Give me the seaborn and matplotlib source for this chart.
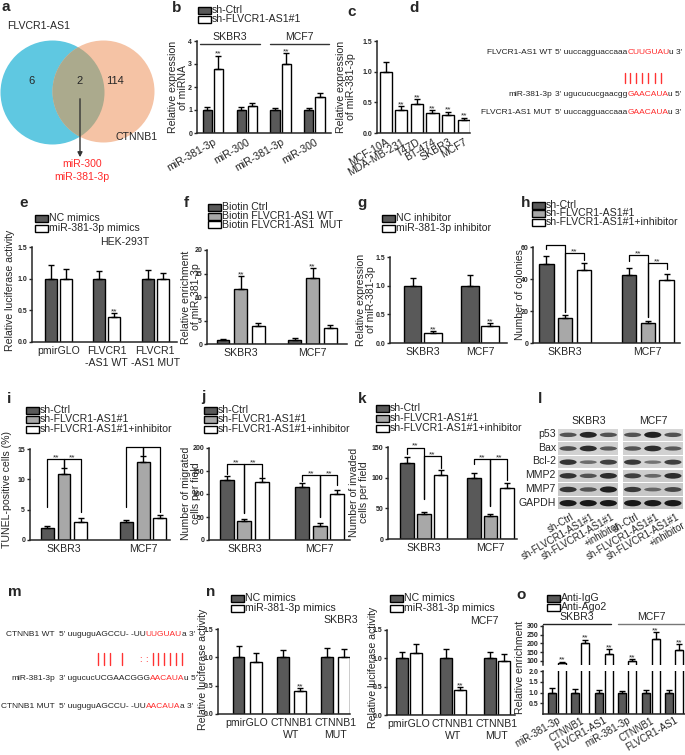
import numpy as np
import pandas as pd
import matplotlib
matplotlib.use("Agg")
import matplotlib.pyplot as plt
import seaborn as sns
from matplotlib.patches import Circle, Rectangle, Ellipse
from matplotlib.font_manager import FontProperties

# ---------------- data ----------------
venn_sets = ["FLVCR1-AS1", "CTNNB1"]
venn_counts = [6, 2, 114]
venn_shared = ["miR-300", "miR-381-3p"]

b_cells = ["SKBR3", "MCF7"]
b_mirs = ["miR-381-3p", "miR-300", "miR-381-3p", "miR-300"]
b_groups = ["sh-Ctrl", "sh-FLVCR1-AS1#1"]
b_ctrl = [1.0, 1.0, 1.0, 1.0]
b_ctrl_err = [0.12, 0.14, 0.10, 0.10]
b_sh = [2.78, 1.18, 2.98, 1.55]
b_sh_err = [0.58, 0.14, 0.50, 0.17]

c_lines = ["MCF-10A", "MDA-MB-231", "T47D", "BT-474", "SKBR3", "MCF7"]
c_vals = [1.0, 0.38, 0.48, 0.33, 0.29, 0.22]
c_err = [0.16, 0.06, 0.07, 0.04, 0.06, 0.03]

d_names = ["FLVCR1-AS1 WT", "miR-381-3p", "FLVCR1-AS1 MUT"]
d_seqs = [
    [("5' uuccagguaccaaa", "#222222"), ("CUUGUAU", "#ff2a2a"), ("u 3'", "#222222")],
    [("3' ugucucucgaacgg", "#222222"), ("GAACAUA", "#ff2a2a"), ("u 5'", "#222222")],
    [("5' uuccagguaccaaa", "#222222"), ("GAACAUA", "#ff2a2a"), ("u 3'", "#222222")],
]

e_constructs = ["pmirGLO", "FLVCR1\n-AS1 WT", "FLVCR1\n-AS1 MUT"]
e_groups = ["NC mimics", "miR-381-3p mimics"]
e_nc = [1.0, 1.0, 1.0]
e_nc_err = [0.21, 0.12, 0.13]
e_mim = [0.99, 0.40, 0.99]
e_mim_err = [0.17, 0.05, 0.10]

f_groups = ["Biotin Ctrl", "Biotin FLVCR1-AS1 WT", "Biotin FLVCR1-AS1  MUT"]
f_ctrl = [0.9, 0.9]
f_ctrl_err = [0.2, 0.3]
f_wt = [11.6, 14.1]
f_wt_err = [2.8, 2.0]
f_mut = [3.9, 3.3]
f_mut_err = [0.6, 0.7]

g_groups = ["NC inhibitor", "miR-381-3p inhibitor"]
g_nc = [1.0, 1.0]
g_nc_err = [0.13, 0.18]
g_inh = [0.18, 0.30]
g_inh_err = [0.03, 0.05]

rescue_groups = ["sh-Ctrl", "sh-FLVCR1-AS1#1", "sh-FLVCR1-AS1#1+inhibitor"]
h_ctrl, h_ctrl_err = [49.5, 42.8], [4.7, 4.0]
h_sh, h_sh_err = [15.8, 12.5], [1.5, 1.2]
h_inh, h_inh_err = [45.5, 39.3], [4.5, 3.8]

i_ctrl, i_ctrl_err = [2.0, 2.9], [0.35, 0.4]
i_sh, i_sh_err = [10.9, 12.9], [0.9, 1.0]
i_inh, i_inh_err = [3.0, 3.6], [0.6, 0.5]

j_ctrl, j_ctrl_err = [131, 115], [9, 9]
j_sh, j_sh_err = [41, 31], [5, 5]
j_inh, j_inh_err = [127, 100], [8, 9]

k_ctrl, k_ctrl_err = [124, 99], [9, 9]
k_sh, k_sh_err = [40, 37], [4, 4]
k_inh, k_inh_err = [104, 83], [8, 9]

l_rows = ["p53", "Bax", "Bcl-2", "MMP2", "MMP7", "GAPDH"]
l_lanes = ["sh-Ctrl", "sh-FLVCR1-AS1#1", "sh-FLVCR1-AS1#1\n+inhibitor"]
l_skbr3 = [[0.55, 0.9, 0.55], [0.6, 0.85, 0.5], [0.8, 0.35, 0.7],
           [0.8, 0.55, 0.85], [0.8, 0.55, 0.95], [1.0, 1.0, 1.0]]
l_mcf7 = [[0.55, 0.95, 0.55], [0.55, 0.85, 0.5], [0.75, 0.3, 0.7],
          [0.7, 0.4, 0.85], [0.75, 0.4, 0.65], [1.0, 1.0, 1.0]]

m_names = ["CTNNB1 WT", "miR-381-3p", "CTNNB1 MUT"]
m_seqs = [
    [("5' uuguguAGCCU- -UU", "#222222"), ("UUGUAU", "#ff2a2a"), ("a 3'", "#222222")],
    [("3' ugucucUCGAACGGG", "#222222"), ("AACAUA", "#ff2a2a"), ("u 5'", "#222222")],
    [("5' uuguguAGCCU- -UU", "#222222"), ("AACAUA", "#ff2a2a"), ("a 3'", "#222222")],
]
m_pairs = [9, 10, 11, 13, 18, 19, 20, 21, 22, 23]
m_wobble = [16, 17]

n_constructs = ["pmirGLO", "CTNNB1\nWT", "CTNNB1\nMUT"]
n1_nc, n1_nc_err = [1.0, 1.0, 1.0], [0.20, 0.13, 0.16]
n1_mim, n1_mim_err = [0.92, 0.41, 1.0], [0.16, 0.05, 0.15]
n2_nc, n2_nc_err = [1.0, 1.0, 1.0], [0.11, 0.16, 0.12]
n2_mim, n2_mim_err = [1.10, 0.44, 0.96], [0.16, 0.05, 0.11]

o_targets = ["miR-381-3p", "CTNNB1", "FLVCR1-AS1", "miR-381-3p", "CTNNB1", "FLVCR1-AS1"]
o_groups = ["Anti-IgG", "Anti-Ago2"]
o_igg = [1.0, 1.0, 1.0, 1.0, 1.0, 1.0]
o_igg_err = [0.2, 0.15, 0.12, 0.08, 0.12, 0.12]
o_ago = [86, 200, 140, 100, 226, 164]
o_ago_err = [10, 22, 28, 12, 40, 33]

# ---------------- setup ----------------
sns.set_style("ticks")
FONT = ["Liberation Sans", "DejaVu Sans"]
plt.rcParams["font.family"] = FONT

DARK, GRAY, WHITE = "#595959", "#a8a8a8", "#ffffff"
W, H = 685, 755
fig = plt.figure(figsize=(W / 100, H / 100), dpi=100)


def axpx(x0, y0, x1, y1):
    return fig.add_axes([x0 / W, 1 - y1 / H, (x1 - x0) / W, (y1 - y0) / H])


def bars(ax, cats, groups, means, errs, colors, width, gap):
    rows = []
    for g, vals in zip(groups, means):
        for c, v in zip(cats, vals):
            rows.append((c, g, v))
    df = pd.DataFrame(rows, columns=["cat", "grp", "val"])
    sns.barplot(data=df, x="cat", y="val", hue="grp", order=cats, hue_order=groups,
                palette=colors, width=width, gap=gap, edgecolor="black", linewidth=1,
                saturation=1, errorbar=None, legend=False, ax=ax)
    tops = []
    for cont, es in zip(ax.containers, errs):
        row = []
        for bar, e in zip(cont, es):
            x = bar.get_x() + bar.get_width() / 2
            h = bar.get_height()
            ax.errorbar(x, h, yerr=[[0], [e]], fmt="none", ecolor="black",
                        elinewidth=1, capsize=2.3, capthick=1)
            row.append((x, h + e))
        tops.append(row)
    return tops


def style(ax, ylim, yticks, ylabels, xlim, xfs=7.6):
    sns.despine(ax=ax)
    ax.set_facecolor("none")
    ax.set_ylim(*ylim)
    ax.set_xlim(*xlim)
    ax.set_yticks(yticks)
    ax.set_yticklabels(ylabels, fontsize=5, fontweight="bold")
    ax.tick_params(axis="y", length=2.5, width=1, pad=1)
    ax.tick_params(axis="x", length=0, pad=3, labelsize=xfs)
    for s in ["left", "bottom"]:
        ax.spines[s].set_linewidth(1.1)
    ax.set_xlabel("")
    ax.set_ylabel("")


def stars(ax, pts):
    for x, y in pts:
        ax.annotate("**", (x, y), xytext=(0, -1.5), textcoords="offset points",
                    ha="center", va="bottom", fontsize=6)


def bracket(ax, tops, cat, gi, gj, top, low_i, low_j):
    xi, xj = tops[gi][cat][0], tops[gj][cat][0]
    ax.plot([xi, xi, xj, xj], [low_i, top, top, low_j], color="black", lw=0.9, clip_on=False)
    ax.annotate("**", ((xi + xj) / 2, top), xytext=(0, -1.5), textcoords="offset points",
                ha="center", va="bottom", fontsize=6)


f2 = lambda v: ["%.1f" % t for t in v]
fi = lambda v: ["%d" % t for t in v]

# b
ax = axpx(197, 41, 331, 133)
b_keys = [f"{c}|{m}" for c in b_cells for m in b_mirs[:2]]
tb = bars(ax, b_keys, b_groups, [b_ctrl, b_sh], [b_ctrl_err, b_sh_err], [DARK, WHITE], 0.66, 0.17)
style(ax, (0, 4), [0, 1, 2, 3, 4], fi([0, 1, 2, 3, 4]), (-0.47, 3.49))
ax.set_xticks(range(4))
ax.set_xticklabels(b_mirs, rotation=30, ha="right", rotation_mode="anchor")
stars(ax, [tb[1][0], tb[1][2]])

# c
ax = axpx(377, 41, 470, 133)
tc = bars(ax, c_lines, ["c"], [c_vals], [c_err], [WHITE], 0.77, 0)
style(ax, (0, 1.5), [0, 0.5, 1, 1.5], f2([0, 0.5, 1, 1.5]), (-0.55, 5.4))
ax.set_xticks(range(6))
ax.set_xticklabels(c_lines, rotation=30, ha="right", rotation_mode="anchor")
stars(ax, tc[0][1:])

# e
ax = axpx(32, 247, 177, 342)
te = bars(ax, e_constructs, e_groups, [e_nc, e_mim], [e_nc_err, e_mim_err], [DARK, WHITE], 0.62, 0.2)
style(ax, (0, 1.5), [0, 0.5, 1, 1.5], f2([0, 0.5, 1, 1.5]), (-0.54, 2.45))
stars(ax, [te[1][1]])

# f
ax = axpx(207, 250, 347, 344)
tf = bars(ax, b_cells, f_groups, [f_ctrl, f_wt, f_mut], [f_ctrl_err, f_wt_err, f_mut_err],
          [DARK, GRAY, WHITE], 0.74, 0.27)
style(ax, (0, 20), [0, 5, 10, 15, 20], fi([0, 5, 10, 15, 20]), (-0.47, 1.48))
stars(ax, tf[1])

# g
ax = axpx(390, 257, 507, 343)
tg = bars(ax, b_cells, g_groups, [g_nc, g_inh], [g_nc_err, g_inh_err], [DARK, WHITE], 0.71, 0.12)
style(ax, (0, 1.5), [0, 0.5, 1, 1.5], f2([0, 0.5, 1, 1.5]), (-0.57, 1.47))
stars(ax, tg[1])

# h
ax = axpx(533, 247, 680, 343)
th = bars(ax, b_cells, rescue_groups, [h_ctrl, h_sh, h_inh], [h_ctrl_err, h_sh_err, h_inh_err],
          [DARK, GRAY, WHITE], 0.68, 0.25)
style(ax, (0, 60), [0, 20, 40, 60], fi([0, 20, 40, 60]), (-0.39, 1.39))
for args in [(0, 0, 1, 61.5, 59, 19.5), (0, 1, 2, 56, 19.5, 52),
             (1, 0, 1, 55, 51.5, 16.5), (1, 1, 2, 50, 16.5, 46)]:
    bracket(ax, th, *args)

# i
ax = axpx(30, 449, 170, 540)
ti = bars(ax, b_cells, rescue_groups, [i_ctrl, i_sh, i_inh], [i_ctrl_err, i_sh_err, i_inh_err],
          [DARK, GRAY, WHITE], 0.63, 0.22)
style(ax, (0, 15), [0, 5, 10, 15], fi([0, 5, 10, 15]), (-0.43, 1.34))
for args in [(0, 0, 1, 13.3, 5.5, 11.9), (0, 1, 2, 13.3, 11.9, 4.6),
             (1, 0, 1, 15.3, 5.5, 14.0), (1, 1, 2, 15.3, 14.0, 4.6)]:
    bracket(ax, ti, *args)

# j
ax = axpx(209, 448, 350, 540)
tj = bars(ax, b_cells, rescue_groups, [j_ctrl, j_sh, j_inh], [j_ctrl_err, j_sh_err, j_inh_err],
          [DARK, GRAY, WHITE], 0.70, 0.2)
style(ax, (0, 200), [0, 50, 100, 150, 200], fi([0, 50, 100, 150, 200]), (-0.47, 1.4))
for args in [(0, 0, 1, 165, 144, 59), (0, 1, 2, 165, 59, 137),
             (1, 0, 1, 141, 128.5, 50.6), (1, 1, 2, 141, 50.6, 119)]:
    bracket(ax, tj, *args)

# k
ax = axpx(388, 447, 517, 539)
tk = bars(ax, b_cells, rescue_groups, [k_ctrl, k_sh, k_inh], [k_ctrl_err, k_sh_err, k_inh_err],
          [DARK, GRAY, WHITE], 0.75, 0.18)
style(ax, (0, 150), [0, 50, 100, 150], fi([0, 50, 100, 150]), (-0.54, 1.4))
for args in [(0, 0, 1, 149, 139, 66), (0, 1, 2, 135.5, 66, 115),
             (1, 0, 1, 130, 123, 53), (1, 1, 2, 130, 53, 97)]:
    bracket(ax, tk, *args)

# l (western blot)
ax = axpx(558, 428, 683, 510)
ax.set_xlim(-0.5, 5.7)
ax.set_ylim(5.5, -0.5)
ax.axis("off")
bg = ["#d6d6d6", "#d1d1d1", "#d4d4d4", "#cccccc", "#c8c8c8", "#c3c3c3"]
lane_x = [0, 1, 2, 3.2, 4.2, 5.2]
for r in range(len(l_rows)):
    for x0 in (-0.5, 2.7):
        ax.add_patch(Rectangle((x0 + 0.02, r - 0.46), 2.96, 0.92, fc=bg[r], ec="none"))
    for lx, inten in zip(lane_x, l_skbr3[r] + l_mcf7[r]):
        g = 0.6 - 0.5 * inten
        ax.add_patch(Ellipse((lx, r), 0.85, 0.16 + 0.3 * inten, fc=(g, g, g), ec="none"))

# n
ax = axpx(218, 629, 350, 714)
tn1 = bars(ax, n_constructs, e_groups, [n1_nc, n1_mim], [n1_nc_err, n1_mim_err], [DARK, WHITE], 0.78, 0.31)
style(ax, (0, 1.5), [0, 0.5, 1, 1.5], f2([0, 0.5, 1, 1.5]), (-0.66, 2.33))
stars(ax, [tn1[1][1]])

ax = axpx(387, 630, 515, 715)
tn2 = bars(ax, n_constructs, e_groups, [n2_nc, n2_mim], [n2_nc_err, n2_mim_err], [DARK, WHITE], 0.64, 0.2)
style(ax, (0, 1.5), [0, 0.5, 1, 1.5], f2([0, 0.5, 1, 1.5]), (-0.5, 2.41))
stars(ax, [tn2[1][1]])

# o (broken axis)
o_keys = [f"{i}" for i in range(6)]
axu = axpx(543, 626, 685, 665)
to = bars(axu, o_keys, o_groups, [o_igg, o_ago], [o_igg_err, o_ago_err], [DARK, WHITE], 0.85, 0.2)
style(axu, (77, 300), [100, 150, 200, 250, 300], fi([100, 150, 200, 250, 300]), (-0.6, 5.47))
axu.spines["bottom"].set_visible(False)
axu.set_xticks([])
stars(axu, to[1])
axl = axpx(543, 671, 685, 714)
bars(axl, o_keys, o_groups, [o_igg, o_ago], [o_igg_err, o_ago_err], [DARK, WHITE], 0.85, 0.2)
style(axl, (0, 2.0), [0.5, 1.0, 1.5, 2.0], f2([0.5, 1.0, 1.5, 2.0]), (-0.6, 5.47), xfs=7.0)
axl.tick_params(axis="x", pad=1)
axl.set_xticks(range(6))
axl.set_xticklabels(o_targets, rotation=30, ha="right", rotation_mode="anchor")

# ---------------- overlay (texts, legends, venn, sequences) ----------------
ov = fig.add_axes([0, 0, 1, 1])
ov.set_xlim(0, W)
ov.set_ylim(H, 0)
ov.axis("off")
ov.set_zorder(10)

# venn
c1 = Circle((52.5, 92.5), 52, fc="#5fc8e1", ec="none")
c2 = Circle((103.5, 91.5), 51, fc="#f5c3a5", ec="none")
ov.add_patch(c1)
ov.add_patch(c2)
c3 = Circle((103.5, 91.5), 51, fc="#abaa8d", ec="none")
ov.add_patch(c3)
c3.set_clip_path(c1)
ov.text(39, 26, venn_sets[0], fontsize=7.6, ha="center", va="center")
ov.text(137, 137, venn_sets[1], fontsize=7.6, ha="center", va="center")
for (x, y), n in zip([(32, 81), (80, 81), (115, 81)], venn_counts):
    ov.text(x, y, str(n), fontsize=8, ha="center", va="center")
ov.annotate("", xy=(80, 160), xytext=(80, 96),
            arrowprops=dict(arrowstyle="-|>", color="#333333", lw=1, mutation_scale=7))
for y, s in zip([164, 177], venn_shared):
    ov.text(82, y, s, fontsize=7.6, color="#ff2a2a", ha="center", va="center")

# panel letters
for s, x, y in [("a", 6, 7), ("b", 177, 8), ("c", 352, 12), ("d", 414, 8), ("e", 24, 203),
                ("f", 186, 203), ("g", 362, 203), ("h", 526, 203), ("i", 9, 399), ("j", 203, 397),
                ("k", 362, 399), ("l", 540, 399), ("m", 15, 592), ("n", 211, 592), ("o", 521, 595)]:
    ov.text(x, y, s, fontsize=11, fontweight="bold", ha="center", va="center")


# legends
def legend(x, ys, labels, colors, fs=7.6):
    for y, lab, col in zip(ys, labels, colors):
        ov.add_patch(Rectangle((x, y - 3.5), 13, 7, fc=col, ec="black", lw=1))
        ov.text(x + 14, y, lab, fontsize=fs, ha="left", va="center")


legend(198, [10, 19], b_groups, [DARK, WHITE])
legend(35, [218, 228], e_groups, [DARK, WHITE])
legend(208, [207, 216, 224.5], f_groups, [DARK, GRAY, WHITE])
legend(382, [218, 228], g_groups, [DARK, WHITE])
legend(532, [205, 213.5, 222], rescue_groups, [DARK, GRAY, WHITE])
legend(26, [410, 419.5, 429], rescue_groups, [DARK, GRAY, WHITE])
legend(204, [410, 419.5, 429], rescue_groups, [DARK, GRAY, WHITE])
legend(376, [408, 418, 428], rescue_groups, [DARK, GRAY, WHITE])
legend(231, [598, 608], e_groups, [DARK, WHITE])
legend(390, [598, 608], e_groups, [DARK, WHITE])
legend(547, [598, 607], o_groups, [DARK, WHITE])

# y labels
for x, y, s in [(178, 87, "Relative expression\nof miRNA"), (346, 87, "Relative expression\nof miR-381-3p"),
                (10, 290, "Relative luciferase activity"), (191, 297, "Relative enrichment\nof miR-381-3p"),
                (366, 300, "Relative expression\nof miR-381-3p"), (520, 295, "Number of colonies"),
                (7, 490, "TUNEL-positive cells (%)"), (191, 493, "Number of migrated\ncells per field"),
                (359, 492, "Number of invaded\ncells per field"), (203, 669, "Relative luciferase activity"),
                (373, 667, "Relative luciferase activity"), (520, 667, "Relative enrichment")]:
    ov.text(x, y, s, fontsize=7.6, rotation=90, ha="center", va="center",
            multialignment="center", linespacing=1.0)

# cell-line headers / group lines
for x0, x1, y, s, col in [(200, 260, 43.5, "SKBR3", "#333333"), (270, 329, 43.5, "MCF7", "#333333"),
                          (543, 611, 624, "SKBR3", "#222222"), (618, 685, 624, "MCF7", "#777777")]:
    ov.plot([x0, x1], [y, y], color=col, lw=1)
    ov.text((x0 + x1) / 2, y - 6.5, s, fontsize=7.6, ha="center", va="center")
ov.text(100, 242, "HEK-293T", fontsize=7.6, ha="left", va="center")
ov.text(323, 620, "SKBR3", fontsize=7.6, ha="left", va="center")
ov.text(470, 621, "MCF7", fontsize=7.6, ha="left", va="center")

# western blot labels
ov.text(589, 421, "SKBR3", fontsize=7.6, ha="center", va="center")
ov.text(653, 421, "MCF7", fontsize=7.6, ha="center", va="center")
for r, name in enumerate(l_rows):
    ov.text(556, 434 + r * 13.7, name, fontsize=7.6, ha="right", va="center")
for base in (568, 633):
    for li, lab in enumerate(l_lanes):
        ov.text(base + 20.2 * li + 3, 512, lab, fontsize=7.0, rotation=30, ha="right", va="top",
                rotation_mode="anchor", multialignment="right", linespacing=1.0)

# sequences
renderer = fig.canvas.get_renderer()


def twidth(s, fs):
    fp = FontProperties(family=FONT, size=fs)
    if not s:
        return 0.0
    w1 = renderer.get_text_width_height_descent(s + "X", fp, ismath=False)[0]
    w2 = renderer.get_text_width_height_descent("X", fp, ismath=False)[0]
    return w1 - w2


def seq_line(xl, xs, y, name, parts, fs=6.0):
    ov.text(xl, y, name, fontsize=fs, ha="right", va="center", color="#222222")
    full = ""
    for s, c in parts:
        ov.text(xs + twidth(full, fs), y, s, fontsize=fs, ha="left", va="center", color=c)
        full += s
    return [xs + twidth(full[:i], fs) + twidth(full[i], fs) / 2 for i in range(len(full))]


pos = None
for y, name, parts in zip([53, 94, 113], d_names, d_seqs):
    p = seq_line(552, 555, y, name, parts)
    if pos is None:
        pos = p
for i in range(16, 23):
    ov.plot([pos[i], pos[i]], [73, 83], color="#ff3333", lw=1)

mpos = []
for y, name, parts in zip([635, 678, 707], m_names, m_seqs):
    mpos.append(seq_line(55, 59, y, name, parts))
for i in m_pairs:
    ov.plot([mpos[1][i], mpos[1][i]], [653, 665], color="#ff3333", lw=1)
for i in m_wobble:
    ov.text(mpos[1][i], 659, ":", color="#ff3333", fontsize=6.5, ha="center", va="center")

fig.savefig("out.png", dpi=100)
